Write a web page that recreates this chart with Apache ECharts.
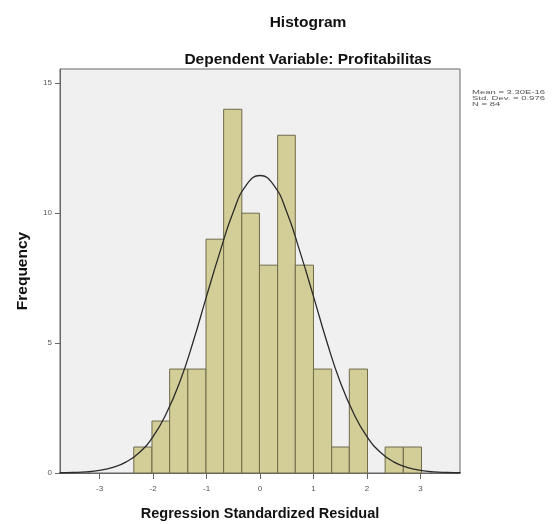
<!DOCTYPE html>
<html>
<head>
<meta charset="utf-8">
<script src="https://cdn.jsdelivr.net/npm/echarts@6/dist/echarts.min.js"></script>
<style>
html, body { margin: 0; padding: 0; background: #fff; }
#histChart { width: 552px; height: 524px; }
</style>
</head>
<body>
<div id="histChart"></div>
<script>
// bin edges of the histogram (regression standardized residual)
var binEdges = [-2.36, -2.02, -1.69, -1.35, -1.01, -0.68, -0.34, -0.01, 0.33, 0.66, 1.00, 1.34, 1.67, 2.01, 2.34, 2.68, 3.02];
// frequency of each bin
var binCounts = [1, 2, 4, 4, 9, 14, 10, 8, 13, 8, 4, 1, 4, 0, 1, 1];
// normal curve
var curveX = [-3.75, -3.5, -3.25, -3, -2.75, -2.5, -2.25, -2, -1.75, -1.5, -1.25, -1, -0.75, -0.5, -0.25, 0,
  0.25, 0.5, 0.75, 1, 1.25, 1.5, 1.75, 2, 2.25, 2.5, 2.75, 3, 3.25, 3.5, 3.75];
var curveY = [0.01, 0.02, 0.04, 0.1, 0.22, 0.43, 0.8, 1.4, 2.3, 3.5, 5.05, 6.8, 8.5, 10.05, 11.1, 11.45,
  11.1, 10.05, 8.5, 6.8, 5.05, 3.5, 2.3, 1.4, 0.8, 0.43, 0.22, 0.1, 0.04, 0.02, 0.01];
var xTicks = [-3, -2, -1, 0, 1, 2, 3];
var yTicks = [0, 5, 10, 15];
var statLines = ['Mean = 3.30E-16', 'Std. Dev. = 0.976', 'N = 84'];

var chart = echarts.init(document.getElementById('histChart'));

var barData = binCounts.map(function (c, i) {
  return [binEdges[i], binEdges[i + 1], c];
});
var lineData = curveX.map(function (x, i) {
  return [x, curveY[i]];
});

var tickLabel = { fontSize: 8, color: '#555', fontFamily: 'Liberation Sans' };

chart.setOption({
  backgroundColor: '#fff',
  animation: false,
  grid: {
    left: 60,
    right: 92,
    top: 69,
    bottom: 51,
    outerBoundsMode: 'none',
    show: true,
    backgroundColor: '#f0f0f0',
    borderColor: '#666',
    borderWidth: 1
  },
  graphic: [{
    type: 'text', x: 308, y: 23,
    style: { text: 'Histogram', align: 'center', verticalAlign: 'middle',
      font: 'bold 15.5px "Liberation Sans"', fill: '#111' }
  }, {
    type: 'text', x: 308, y: 60,
    style: { text: 'Dependent Variable: Profitabilitas', align: 'center', verticalAlign: 'middle',
      font: 'bold 15.5px "Liberation Sans"', fill: '#111' }
  }, {
    // stats box text is squashed vertically in the original
    type: 'text', x: 472, y: 89, scaleY: 0.6,
    style: { text: statLines.join('\n'), align: 'left', verticalAlign: 'top',
      font: '9.5px "Liberation Sans"', lineHeight: 10, fill: '#555' }
  }],
  xAxis: {
    type: 'value',
    min: -3.74,
    max: 3.74,
    name: 'Regression Standardized Residual',
    nameLocation: 'middle',
    nameGap: 33,
    nameTextStyle: { fontSize: 14.5, fontWeight: 'bold', color: '#111', fontFamily: 'Liberation Sans' },
    splitLine: { show: false },
    axisLine: { lineStyle: { color: '#666' } },
    axisTick: { customValues: xTicks, length: 6, lineStyle: { color: '#666' } },
    axisLabel: Object.assign({ customValues: xTicks, margin: 12 }, tickLabel)
  },
  yAxis: {
    type: 'value',
    min: 0,
    max: 15.55,
    name: 'Frequency',
    nameLocation: 'middle',
    nameGap: 29,
    nameTextStyle: { fontSize: 15.5, fontWeight: 'bold', color: '#111', fontFamily: 'Liberation Sans' },
    splitLine: { show: false },
    axisLine: { show: true, onZero: false, lineStyle: { color: '#666' } },
    axisTick: { show: true, customValues: yTicks, length: 5, lineStyle: { color: '#666' } },
    axisLabel: Object.assign({ customValues: yTicks, margin: 8 }, tickLabel)
  },
  series: [{
    type: 'custom',
    z: 2,
    data: barData,
    encode: { x: [0, 1], y: 2 },
    renderItem: function (params, api) {
      if (api.value(2) <= 0) return null;
      var p0 = api.coord([api.value(0), api.value(2)]);
      var p1 = api.coord([api.value(1), 0]);
      return {
        type: 'rect',
        shape: { x: p0[0], y: p0[1], width: p1[0] - p0[0], height: p1[1] - p0[1] },
        style: { fill: '#d3cd97', stroke: '#6f6b4a', lineWidth: 1 }
      };
    }
  }, {
    type: 'line',
    z: 3,
    data: lineData,
    smooth: true,
    symbol: 'none',
    lineStyle: { color: '#2b2b2b', width: 1.3 }
  }]
});
</script>
</body>
</html>
